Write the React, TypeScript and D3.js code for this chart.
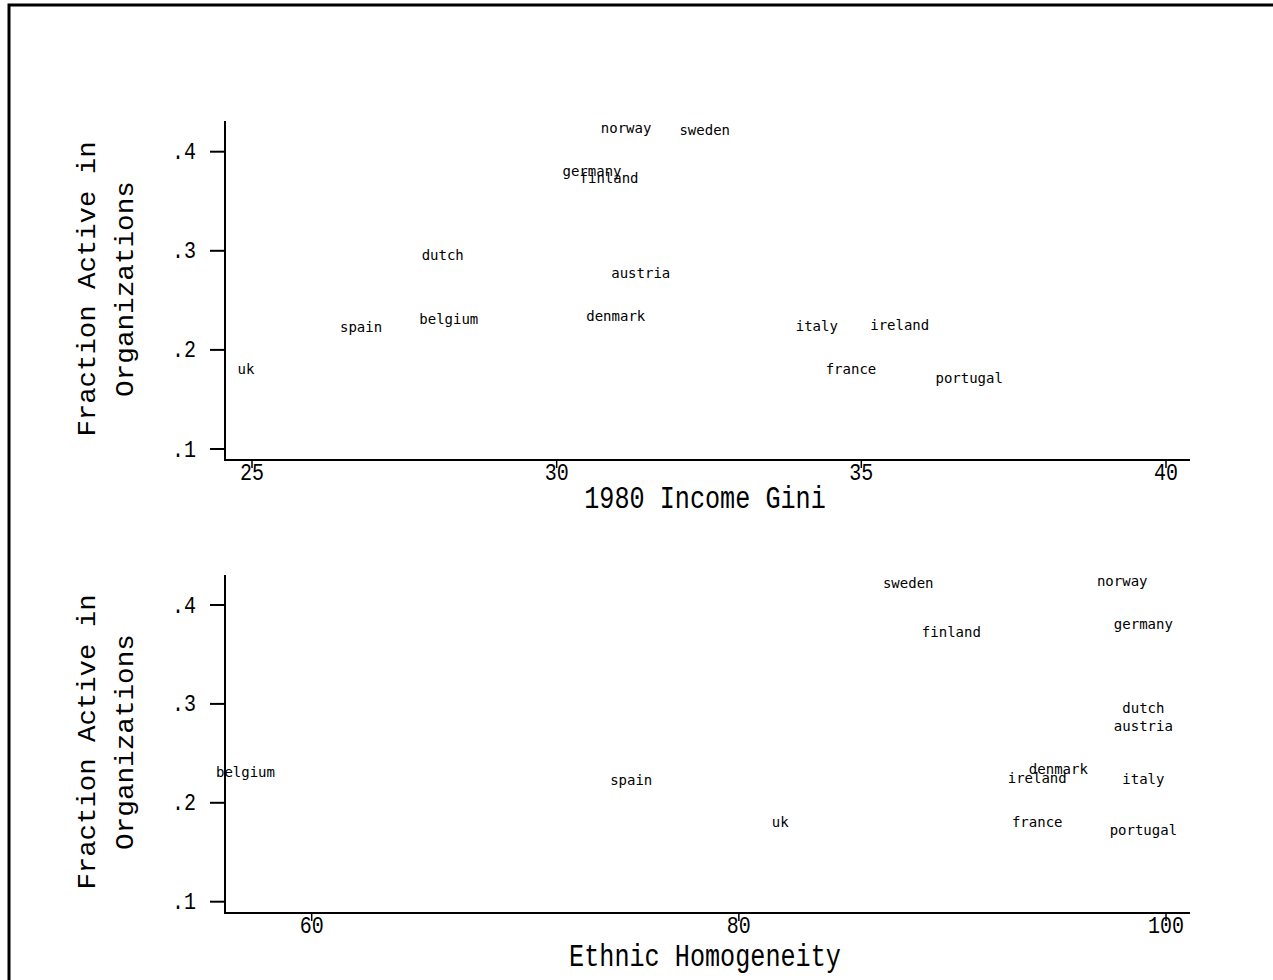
import React from "react";
import * as d3 from "d3";

const countries = ["norway", "sweden", "germany", "finland", "dutch", "austria", "denmark", "belgium", "ireland", "italy", "spain", "uk", "france", "portugal"];
const fractionActive = [0.423, 0.421, 0.380, 0.372, 0.295, 0.277, 0.233, 0.230, 0.224, 0.223, 0.222, 0.180, 0.180, 0.171];
const incomeGini = [31.14, 32.43, 30.58, 30.86, 28.13, 31.38, 30.97, 28.23, 35.63, 34.27, 26.79, 24.9, 34.83, 36.77];
const ethnicHomogeneity = [97.95, 87.93, 98.94, 89.95, 98.94, 98.94, 94.96, 56.9, 93.97, 98.94, 74.96, 81.94, 93.97, 98.94];

const yTicks = [0.1, 0.2, 0.3, 0.4];
const giniTicks = [25, 30, 35, 40];
const ethnicTicks = [60, 80, 100];

const W = 1273;
const H = 980;
const AXIS_FONT = "'Liberation Mono', 'DejaVu Sans Mono', monospace";
const LABEL_FONT = "'DejaVu Sans Mono', monospace";

type PanelProps = {
  xVals: number[];
  xDomain: [number, number];
  xRange: [number, number];
  xTicks: number[];
  axisY: number;
  axisTop: number;
  yRange: [number, number];
  xTitle: string;
  xTitleY: number;
  yTitleCenter: number;
};

function fmtY(v: number) {
  return d3.format(".1f")(v).replace(/^0/, "");
}

function Panel(p: PanelProps) {
  const x = d3.scaleLinear().domain(p.xDomain).range(p.xRange);
  const y = d3.scaleLinear().domain([0.1, 0.4]).range(p.yRange);
  const axisX = 225;
  const axisRight = 1190;
  const tickAdv = 12;
  return (
    <g>
      <line x1={axisX} x2={axisX} y1={p.axisTop} y2={p.axisY + 1} stroke="#000" strokeWidth={2} />
      <line x1={axisX} x2={axisRight} y1={p.axisY} y2={p.axisY} stroke="#000" strokeWidth={2} />
      {yTicks.map((t) => (
        <g key={"y" + t}>
          <line x1={axisX - 15} x2={axisX} y1={y(t)} y2={y(t)} stroke="#000" strokeWidth={2} />
          <text
            x={196}
            y={y(t) + 7.5}
            textAnchor="end"
            fontFamily={AXIS_FONT}
            fontSize={23}
            textLength={fmtY(t).length * tickAdv}
            lengthAdjust="spacingAndGlyphs"
            fill="#000"
          >
            {fmtY(t)}
          </text>
        </g>
      ))}
      {p.xTicks.map((t) => (
        <g key={"x" + t}>
          <line x1={x(t)} x2={x(t)} y1={p.axisY} y2={p.axisY + 8} stroke="#000" strokeWidth={1.5} />
          <text
            x={x(t)}
            y={p.axisY + 20}
            textAnchor="middle"
            fontFamily={AXIS_FONT}
            fontSize={23}
            textLength={String(t).length * tickAdv}
            lengthAdjust="spacingAndGlyphs"
            fill="#000"
          >
            {t}
          </text>
        </g>
      ))}
      <text
        x={705}
        y={p.xTitleY}
        textAnchor="middle"
        fontFamily={AXIS_FONT}
        fontSize={31}
        textLength={p.xTitle.length * 15.1}
        lengthAdjust="spacingAndGlyphs"
        fill="#000"
      >
        {p.xTitle}
      </text>
      <g transform={`translate(95,${p.yTitleCenter}) rotate(-90)`}>
        <text
          x={0}
          y={0}
          textAnchor="middle"
          fontFamily={AXIS_FONT}
          fontSize={26}
          textLength={"Fraction Active in".length * 16.4}
          lengthAdjust="spacingAndGlyphs"
          fill="#000"
        >
          Fraction Active in
        </text>
      </g>
      <g transform={`translate(133,${p.yTitleCenter}) rotate(-90)`}>
        <text
          x={0}
          y={0}
          textAnchor="middle"
          fontFamily={AXIS_FONT}
          fontSize={26}
          textLength={"Organizations".length * 16.6}
          lengthAdjust="spacingAndGlyphs"
          fill="#000"
        >
          Organizations
        </text>
      </g>
      {countries.map((c, i) => (
        <text
          key={c}
          x={x(p.xVals[i])}
          y={y(fractionActive[i]) + 4}
          textAnchor="middle"
          fontFamily={LABEL_FONT}
          fontSize={14}
          fill="#000"
        >
          {c}
        </text>
      ))}
    </g>
  );
}

export default function App() {
  return (
    <div>
      <style>{`body{margin:0;}`}</style>
      <svg width={W} height={H} style={{ display: "block", background: "#fff" }}>
        <rect x={0} y={0} width={W} height={H} fill="#fff" />
        <rect x={9} y={5} width={W + 20} height={H + 20} fill="none" stroke="#000" strokeWidth={3} />
        <Panel
          xVals={incomeGini}
          xDomain={[25, 40]}
          xRange={[252, 1166]}
          xTicks={giniTicks}
          axisY={460}
          axisTop={121}
          yRange={[449, 151.7]}
          xTitle="1980 Income Gini"
          xTitleY={508}
          yTitleCenter={289}
        />
        <Panel
          xVals={ethnicHomogeneity}
          xDomain={[60, 100]}
          xRange={[311.7, 1166]}
          xTicks={ethnicTicks}
          axisY={913}
          axisTop={575}
          yRange={[901.7, 605]}
          xTitle="Ethnic Homogeneity"
          xTitleY={966}
          yTitleCenter={742}
        />
      </svg>
    </div>
  );
}
